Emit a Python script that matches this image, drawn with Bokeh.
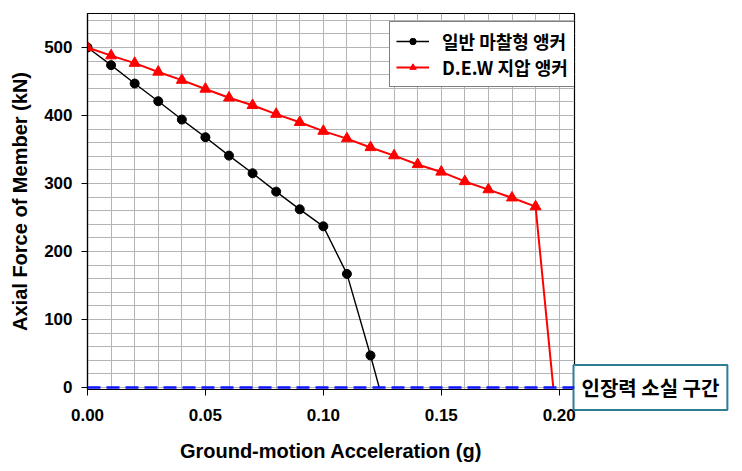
from bokeh.plotting import figure
from bokeh.models import (Range1d, FixedTicker, NumeralTickFormatter, Legend, LegendItem,
                          Span, Label)
from bokeh.embed import file_html
from bokeh.resources import INLINE

# ---- data ----
friction_x = [0.00, 0.01, 0.02, 0.03, 0.04, 0.05, 0.06, 0.07, 0.08, 0.09, 0.10, 0.11, 0.12]
friction_y = [500, 474, 447, 421, 394, 368, 341, 315, 288, 262, 237, 167, 47]
friction_end_x = 0.1237
friction_end_y = 0

dew_x = [0.00, 0.01, 0.02, 0.03, 0.04, 0.05, 0.06, 0.07, 0.08, 0.09,
         0.10, 0.11, 0.12, 0.13, 0.14, 0.15, 0.16, 0.17, 0.18, 0.19]
dew_y = [500, 488, 477, 464, 452, 439, 426, 415, 402, 390,
         377, 366, 353, 341, 328, 317, 303, 291, 279, 266]
dew_end_x = 0.1975
dew_end_y = 0

series_names = ["일반 마찰형 앵커", "D.E.W 지압 앵커"]
x_ticks = [0.00, 0.05, 0.10, 0.15, 0.20]
y_ticks = [0, 100, 200, 300, 400, 500]
x_label = "Ground-motion Acceleration (g)"
y_label = "Axial Force of Member (kN)"
zone_text = "인장력 소실 구간"
zone_level = 0

LATIN = "Liberation Sans"
KOREAN = "Noto Sans CJK KR"

p = figure(width=742, height=471, output_backend="svg", toolbar_location=None,
           x_range=Range1d(0, 0.2065), y_range=Range1d(-3, 550),
           min_border_left=87, min_border_right=168, min_border_top=13, min_border_bottom=82)
p.background_fill_color = "white"
p.border_fill_color = "white"
p.outline_line_color = "black"
p.outline_line_width = 1.2

# grid
p.xgrid.ticker = FixedTicker(ticks=[round(i * 0.01, 2) for i in range(21)])
p.ygrid.ticker = FixedTicker(ticks=list(range(0, 560, 20)))
for g in (p.xgrid, p.ygrid):
    g.grid_line_color = "#b4b4b4"
    g.grid_line_width = 1

# axes
p.xaxis.ticker = FixedTicker(ticks=x_ticks)
p.yaxis.ticker = FixedTicker(ticks=y_ticks)
p.xaxis.formatter = NumeralTickFormatter(format="0.00")
for ax in (p.xaxis, p.yaxis):
    ax.axis_line_color = "black"
    ax.axis_line_width = 1.2
    ax.major_tick_line_color = "black"
    ax.major_tick_in = 0
    ax.major_tick_out = 6
    ax.minor_tick_line_color = None
    ax.major_label_text_font = LATIN
    ax.major_label_text_font_style = "bold"
    ax.major_label_text_font_size = "17px"
    ax.major_label_text_color = "black"
    ax.axis_label_text_font = LATIN
    ax.axis_label_text_font_style = "bold"
    ax.axis_label_text_font_size = "20px"
    ax.axis_label_text_color = "black"
p.xaxis.axis_label = x_label
p.yaxis.axis_label = y_label
p.xaxis.major_label_standoff = 13
p.yaxis.major_label_standoff = 9
p.xaxis.axis_label_standoff = 16
p.yaxis.axis_label_standoff = 10

# zero line
p.add_layout(Span(location=zone_level, dimension="width", line_color="#0a14ff",
                  line_width=2.5, line_dash="13 6"))

# series
l1 = p.line(friction_x + [friction_end_x], friction_y + [friction_end_y],
            line_color="black", line_width=1.4)
m1 = p.scatter(friction_x, friction_y, marker="circle", size=9,
               fill_color="black", line_color="black")
l2 = p.line(dew_x + [dew_end_x], dew_y + [dew_end_y], line_color="#ff0000", line_width=2)
m2 = p.scatter(dew_x, dew_y, marker="triangle", size=11,
               fill_color="#ff0000", line_color="#ff0000")

legend = Legend(items=[LegendItem(label=series_names[0], renderers=[l1, m1]),
                       LegendItem(label=series_names[1], renderers=[l2, m2])],
                location=(302, 302), orientation="vertical")
legend.label_text_font = KOREAN
legend.label_text_font_style = "bold"
legend.label_text_font_size = "18px"
legend.label_text_color = "black"
legend.glyph_width = 33
legend.glyph_height = 16
legend.label_height = 16
legend.label_standoff = 13
legend.spacing = 0
legend.padding = 6
legend.margin = 0
legend.border_line_color = "black"
legend.border_line_width = 1.5
legend.background_fill_color = "white"
legend.background_fill_alpha = 1
p.add_layout(legend)

# annotation box (outside the frame, in the right side panel)
p.add_layout(Label(x=-1, y=2, x_units="screen", y_units="screen", text=zone_text,
                   text_font=KOREAN,
                   text_font_style="bold", text_font_size="20px", text_color="black",
                   text_align="left", text_baseline="middle", padding=8,
                   border_line_color="#2e7d93", border_line_width=2,
                   background_fill_color="white", background_fill_alpha=1), "right")

open("out.html", "w").write(file_html(p, INLINE))
